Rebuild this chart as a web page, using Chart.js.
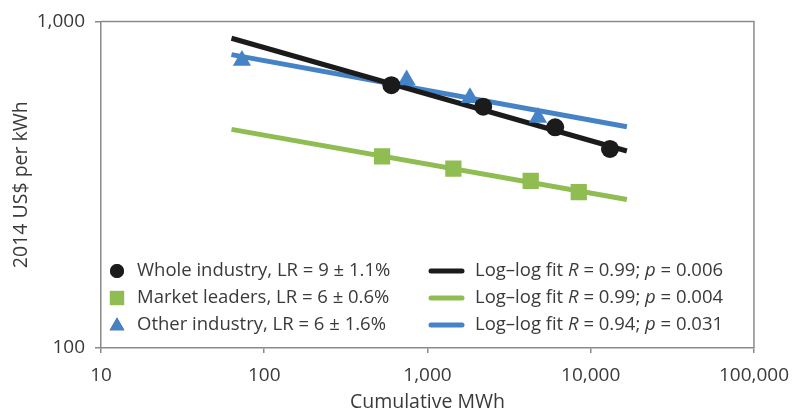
<!DOCTYPE html>
<html lang="en">
<head>
    <meta charset="UTF-8">
    <title>Learning rates - 2014 US$ per kWh</title>
    <script src="https://cdn.jsdelivr.net/npm/chart.js"></script>
    <style>
    body { margin: 0; background: #fff; }
    #wrap { width: 800px; height: 414px; position: relative; }
</style>
</head>
<body>
    <div id="wrap"><canvas id="lrChart"></canvas></div>
    <script>
        // cumulative MWh / 2014 US$ per kWh
        const wholeX = [601, 2195, 6058, 13120];
        const wholeY = [638, 548, 474, 407];
        const leadersX = [527, 1441, 4290, 8450];
        const leadersY = [386, 354, 325, 300];
        const otherX = [73, 745, 1821, 4753];
        const otherY = [759, 661, 584, 508];

        // log-log fit lines, end points
        const fitX = [63, 16650];
        const wholeFitY = [888, 401];
        const leadersFitY = [467, 285];
        const otherFitY = [791, 476];

        const xTicks = [10, 100, 1000, 10000, 100000];
        const yTicks = [100, 1000];

        const pointLabels = [
            'Whole industry, LR = 9 \u00b1 1.1%',
            'Market leaders, LR = 6 \u00b1 0.6%',
            'Other industry, LR = 6 \u00b1 1.6%'
        ];
        const fitR = ['0.99', '0.99', '0.94'];
        const fitP = ['0.006', '0.004', '0.031'];

        const BLACK = '#1b1b1b';
        const GREEN = '#8fbd52';
        const BLUE = '#4683c6';
        const AXIS = '#8a8a8a';
        const TEXT = '#3a3a3a';
        const FONT = '"Open Sans", "Noto Sans", sans-serif';

        const pts = (xs, ys) => xs.map((x, i) => ({x: x, y: ys[i]}));

        // frame on top and right side of the plot
        const framePlugin = {
            id: 'frame',
            beforeDatasetsDraw(chart) {
                const {ctx, chartArea: a} = chart;
                ctx.save();
                ctx.strokeStyle = AXIS;
                ctx.lineWidth = 1.5;
                ctx.beginPath();
                ctx.moveTo(a.left, a.top);
                ctx.lineTo(a.right, a.top);
                ctx.lineTo(a.right, a.bottom);
                ctx.stroke();
                ctx.restore();
            }
        };

        // two column legend with italic R and p
        const legendPlugin = {
            id: 'twoColLegend',
            afterDatasetsDraw(chart) {
                const {ctx, chartArea: a} = chart;
                const sets = chart.data.datasets;
                const rows = [a.bottom - 77, a.bottom - 50, a.bottom - 23];
                ctx.save();
                ctx.textBaseline = 'middle';
                ctx.fillStyle = TEXT;
                rows.forEach((y, i) => {
                    const ds = sets[i + 3];
                    const r = ds.pointStyle === 'circle' ? 7 : (ds.pointStyle === 'rect' ? 10 : 8.5);
                    Chart.helpers.drawPoint(ctx, {
                        pointStyle: ds.pointStyle, radius: r, borderWidth: 0, rotation: 0
                    }, a.left + 16, ds.pointStyle === 'triangle' ? y + 1 : y);
                    ctx.fillStyle = ds.backgroundColor;
                    ctx.fill();
                    ctx.fillStyle = TEXT;
                    ctx.font = '18.5px ' + FONT;
                    ctx.fillText(pointLabels[i], a.left + 36, y);

                    const line = sets[i];
                    ctx.strokeStyle = line.borderColor;
                    ctx.lineWidth = 5;
                    ctx.lineCap = 'round';
                    ctx.beginPath();
                    ctx.moveTo(a.left + 330, y);
                    ctx.lineTo(a.left + 361, y);
                    ctx.stroke();

                    const parts = [
                        ['Log\u2013log fit ', false], ['R', true], [' = ' + fitR[i] + '; ', false],
                        ['p', true], [' = ' + fitP[i], false]
                    ];
                    let x = a.left + 374;
                    parts.forEach(([t, it]) => {
                        ctx.font = (it ? 'italic ' : '') + '18.5px ' + FONT;
                        ctx.fillText(t, x, y);
                        x += ctx.measureText(t).width;
                    });
                });
                ctx.restore();
            }
        };

        const ctx = document.getElementById('lrChart').getContext('2d');
        new Chart(ctx, {
            type: 'scatter',
            data: {
                datasets: [
                    { label: 'Whole fit', type: 'line', data: pts(fitX, wholeFitY), borderColor: BLACK,
                      borderWidth: 5, pointRadius: 0, order: 2 },
                    { label: 'Leaders fit', type: 'line', data: pts(fitX, leadersFitY), borderColor: GREEN,
                      borderWidth: 5, pointRadius: 0, order: 2 },
                    { label: 'Other fit', type: 'line', data: pts(fitX, otherFitY), borderColor: BLUE,
                      borderWidth: 5, pointRadius: 0, order: 2 },
                    { label: 'Whole industry', data: pts(wholeX, wholeY), pointStyle: 'circle',
                      backgroundColor: BLACK, borderWidth: 0, pointRadius: 9, order: 0 },
                    { label: 'Market leaders', data: pts(leadersX, leadersY), pointStyle: 'rect',
                      backgroundColor: GREEN, borderWidth: 0, pointRadius: 11.5, order: 1 },
                    { label: 'Other industry', data: pts(otherX, otherY), pointStyle: 'triangle',
                      backgroundColor: BLUE, borderWidth: 0, pointRadius: 10.5, order: 1 }
                ]
            },
            options: {
                responsive: true,
                maintainAspectRatio: false,
                animation: false,
                layout: { padding: { top: 16, right: 44, left: 0, bottom: 0 } },
                plugins: { legend: { display: false }, tooltip: { enabled: false } },
                scales: {
                    x: {
                        type: 'logarithmic',
                        min: 10, max: 100000,
                        afterBuildTicks: s => { s.ticks = xTicks.map(v => ({value: v})); },
                        afterFit: s => { s.height = 66; },
                        ticks: {
                            callback: v => Number(v).toLocaleString('en-US'),
                            color: TEXT, font: { family: FONT, size: 19 }, padding: 11, maxRotation: 0
                        },
                        grid: { display: true, drawOnChartArea: false, tickLength: 5, color: AXIS, lineWidth: 1.5 },
                        border: { color: AXIS, width: 1.5 },
                        title: { display: true, text: 'Cumulative MWh', color: TEXT,
                                 font: { family: FONT, size: 19.5 }, padding: { top: 0, bottom: 0 } }
                    },
                    y: {
                        type: 'logarithmic',
                        min: 100, max: 1000,
                        afterBuildTicks: s => { s.ticks = yTicks.map(v => ({value: v})); },
                        afterFit: s => { s.width = 101; },
                        ticks: {
                            callback: v => Number(v).toLocaleString('en-US'),
                            color: TEXT, font: { family: FONT, size: 19 }, padding: 10
                        },
                        grid: { display: true, drawOnChartArea: false, tickLength: 6, color: AXIS, lineWidth: 1.5 },
                        border: { color: AXIS, width: 1.5 },
                        title: { display: true, text: '2014 US$ per kWh', color: TEXT,
                                 font: { family: FONT, size: 19.5 }, padding: { top: 10, bottom: 0 } }
                    }
                }
            },
            plugins: [framePlugin, legendPlugin]
        });
    </script>
</body>
</html>
